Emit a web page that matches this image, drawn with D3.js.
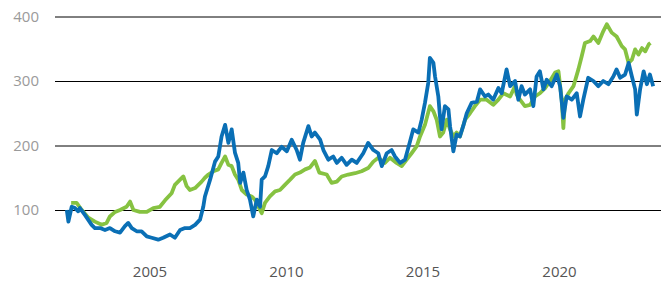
<!DOCTYPE html>
<html>
<head>
<meta charset="utf-8">
<script src="https://cdn.jsdelivr.net/npm/d3@7"></script>
<style>
  body { margin: 0; background: #fff; }
  text { font-family: "Open Sans", sans-serif; }
</style>
</head>
<body>
<div id="chart"></div>
<script>
// series (decimal years / index values)
var blueYears = [2001.97, 2002.03, 2002.15, 2002.27, 2002.39, 2002.45, 2002.64, 2002.88, 2003.0, 2003.19,
  2003.37, 2003.55, 2003.74, 2003.92, 2004.1, 2004.22, 2004.35, 2004.53, 2004.71, 2004.9,
  2005.08, 2005.32, 2005.5, 2005.75, 2005.93, 2006.12, 2006.3, 2006.48, 2006.67, 2006.85,
  2006.97, 2007.03, 2007.22, 2007.4, 2007.52, 2007.64, 2007.77, 2007.89, 2008.01, 2008.13,
  2008.25, 2008.32, 2008.44, 2008.56, 2008.68, 2008.8, 2008.93, 2009.05, 2009.11, 2009.23,
  2009.35, 2009.48, 2009.66, 2009.84, 2010.03, 2010.21, 2010.39, 2010.51, 2010.63, 2010.82,
  2010.94, 2011.06, 2011.25, 2011.37, 2011.55, 2011.73, 2011.86, 2012.04, 2012.22, 2012.41,
  2012.59, 2012.83, 2013.01, 2013.2, 2013.38, 2013.51, 2013.69, 2013.87, 2013.99, 2014.18,
  2014.36, 2014.54, 2014.66, 2014.85, 2014.97, 2015.09, 2015.21, 2015.27, 2015.4, 2015.46,
  2015.58, 2015.64, 2015.7, 2015.82, 2015.95, 2016.01, 2016.13, 2016.25, 2016.37, 2016.49,
  2016.62, 2016.8, 2016.99, 2017.11, 2017.29, 2017.41, 2017.59, 2017.78, 2017.9, 2018.08,
  2018.21, 2018.39, 2018.51, 2018.63, 2018.75, 2018.94, 2019.06, 2019.18, 2019.3, 2019.43,
  2019.55, 2019.73, 2019.92, 2020.04, 2020.16, 2020.28, 2020.47, 2020.65, 2020.77, 2020.89,
  2021.07, 2021.26, 2021.44, 2021.62, 2021.81, 2021.99, 2022.11, 2022.24, 2022.42, 2022.55,
  2022.67, 2022.79, 2022.85, 2022.97, 2023.1, 2023.22, 2023.33, 2023.45];
var blueValues = [100, 82, 105, 103, 98, 103, 92, 77, 72, 72,
  69, 72, 67, 65, 75, 80, 72, 67, 67, 59,
  57, 54, 57, 62, 57, 69, 72, 72, 77, 85,
  105, 121, 147, 175, 183, 214, 232, 204, 225, 189,
  173, 142, 158, 131, 116, 90, 116, 105, 147, 152,
  168, 193, 188, 198, 191, 209, 193, 178, 204, 230,
  214, 220, 209, 193, 178, 183, 173, 181, 170, 178,
  173, 188, 204, 193, 188, 168, 188, 193, 183, 173,
  178, 206, 225, 220, 240, 266, 297, 336, 328, 307,
  276, 245, 225, 261, 256, 230, 191, 217, 214, 230,
  250, 266, 268, 287, 276, 279, 271, 289, 281, 318,
  292, 300, 271, 292, 279, 287, 261, 307, 315, 287,
  302, 292, 310, 292, 243, 276, 271, 281, 245, 271,
  305, 300, 292, 300, 295, 307, 318, 305, 310, 328,
  307, 287, 248, 287, 315, 295, 310, 292];

var greenYears = [2002.13, 2002.33, 2002.52, 2002.76, 2003.0, 2003.25, 2003.43, 2003.55, 2003.74, 2003.92,
  2004.16, 2004.29, 2004.41, 2004.65, 2004.9, 2005.14, 2005.38, 2005.57, 2005.81, 2005.93,
  2006.12, 2006.24, 2006.36, 2006.48, 2006.67, 2006.91, 2007.03, 2007.16, 2007.34, 2007.52,
  2007.64, 2007.77, 2007.89, 2008.01, 2008.13, 2008.25, 2008.38, 2008.56, 2008.74, 2008.86,
  2009.11, 2009.23, 2009.41, 2009.6, 2009.78, 2009.96, 2010.15, 2010.33, 2010.51, 2010.7,
  2010.88, 2011.06, 2011.22, 2011.49, 2011.67, 2011.86, 2012.04, 2012.28, 2012.53, 2012.77,
  2013.01, 2013.2, 2013.38, 2013.62, 2013.81, 2014.05, 2014.24, 2014.42, 2014.6, 2014.79,
  2014.91, 2015.09, 2015.27, 2015.4, 2015.52, 2015.64, 2015.76, 2015.89, 2016.01, 2016.13,
  2016.25, 2016.37, 2016.56, 2016.74, 2016.92, 2017.11, 2017.35, 2017.59, 2017.78, 2017.96,
  2018.21, 2018.39, 2018.45, 2018.57, 2018.75, 2018.94, 2019.12, 2019.3, 2019.49, 2019.67,
  2019.86, 2019.98, 2020.1, 2020.16, 2020.22, 2020.35, 2020.53, 2020.71, 2020.83, 2020.95,
  2021.14, 2021.26, 2021.44, 2021.62, 2021.75, 2021.93, 2022.11, 2022.3, 2022.42, 2022.55,
  2022.67, 2022.79, 2022.91, 2023.04, 2023.16, 2023.29, 2023.35];
var greenValues = [111, 111, 100, 88, 82, 77, 80, 90, 97, 100,
  105, 113, 100, 97, 97, 103, 105, 115, 126, 139,
  147, 152, 137, 131, 134, 144, 150, 155, 160, 163,
  173, 183, 170, 168, 155, 147, 131, 124, 121, 116,
  95, 111, 121, 129, 131, 139, 147, 155, 158, 163,
  166, 176, 158, 155, 142, 144, 152, 155, 157, 160,
  165, 175, 181, 173, 181, 173, 168, 178, 188, 199,
  214, 232, 261, 253, 240, 214, 220, 240, 225, 214,
  220, 214, 240, 250, 261, 271, 271, 263, 271, 281,
  276, 292, 279, 271, 261, 263, 276, 281, 289, 300,
  313, 315, 271, 227, 271, 281, 292, 318, 338, 359,
  362, 369, 359, 377, 388, 375, 369, 354, 349, 328,
  333, 349, 341, 351, 346, 357, 359];

var yTicks = [100, 200, 300, 400];
var xTicks = [2005, 2010, 2015, 2020];

var width = 661, height = 281;

var svg = d3.select("#chart")
  .append("svg")
    .attr("width", width)
    .attr("height", height);

var x = d3.scaleLinear()
  .domain([2005, 2020])
  .range([149.5, 559]);

var y = d3.scaleLinear()
  .domain([100, 400])
  .range([210, 16.5]);

// gridlines + y labels
var yAxis = svg.append("g")
  .attr("transform", "translate(55,0)")
  .call(d3.axisLeft(y).tickValues(yTicks).tickSize(-(width - 55)).tickPadding(16));
yAxis.select(".domain").remove();
yAxis.selectAll(".tick line").attr("stroke", "#000").attr("stroke-width", 1);
yAxis.selectAll(".tick text")
  .attr("fill", "#9a9a9a")
  .style("font-size", "15px");

// x labels
var xAxis = svg.append("g")
  .attr("transform", "translate(0,256)")
  .call(d3.axisBottom(x).tickValues(xTicks).tickFormat(d3.format("d")).tickSize(0).tickPadding(10));
xAxis.select(".domain").remove();
xAxis.selectAll(".tick text")
  .attr("fill", "#555")
  .style("font-size", "15px");

var line = d3.line()
  .x(d => x(d[0]))
  .y(d => y(d[1]));

var green = greenYears.map((d, i) => [d, greenValues[i]]);
var blue = blueYears.map((d, i) => [d, blueValues[i]]);

svg.append("path")
  .datum(green)
  .attr("fill", "none")
  .attr("stroke", "#86c241")
  .attr("stroke-width", 3.8)
  .attr("stroke-linejoin", "round")
  .attr("d", line);

svg.append("path")
  .datum(blue)
  .attr("fill", "none")
  .attr("stroke", "#0a6fb5")
  .attr("stroke-width", 3.8)
  .attr("stroke-linejoin", "round")
  .attr("d", line);
</script>
</body>
</html>
